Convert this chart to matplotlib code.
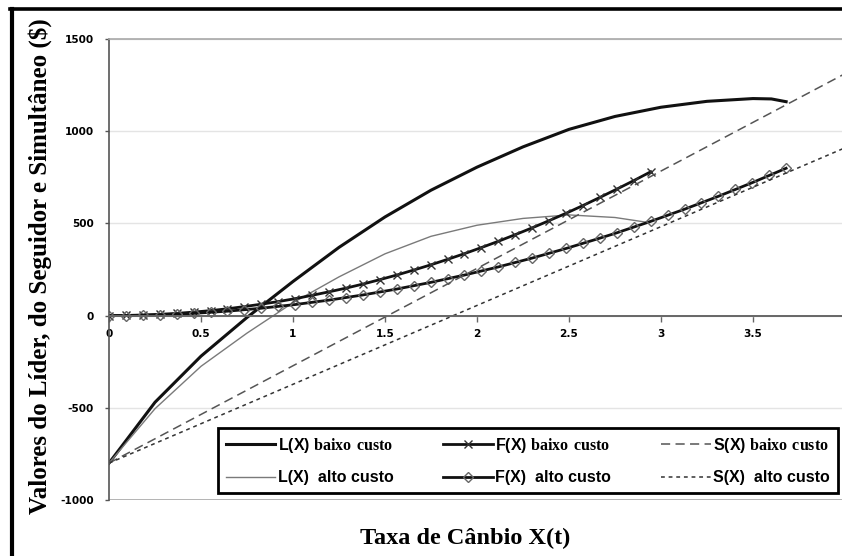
import numpy as np
import matplotlib
matplotlib.use("Agg")
import matplotlib.pyplot as plt
from matplotlib.lines import Line2D

plt.rcParams["axes.unicode_minus"] = False
plt.rcParams["mathtext.fontset"] = "custom"
plt.rcParams["mathtext.bf"] = "Liberation Serif:bold"
plt.rcParams["mathtext.rm"] = "Liberation Serif"

# --- data ---
# leader value curves (smooth lines)
x_lider_baixo = [0, 0.25, 0.5, 0.75, 1.0, 1.25, 1.5, 1.75, 2.0, 2.25, 2.5, 2.75, 3.0, 3.25, 3.5, 3.6, 3.68]
y_lider_baixo = [-800, -470, -220, -10, 185, 370, 535, 680, 805, 915, 1010, 1080, 1130, 1162, 1177, 1175, 1160]

x_lider_alto = [0, 0.25, 0.5, 0.75, 1.0, 1.25, 1.5, 1.75, 2.0, 2.25, 2.5, 2.75, 2.93]
y_lider_alto = [-800, -505, -275, -95, 70, 210, 335, 430, 490, 527, 546, 532, 505]

# follower value curves (marker every 0.092)
x_step = 0.092
y_seguidor_baixo = [0, 1, 3, 7, 12, 19, 27, 37, 49, 62, 76, 92, 110, 129, 149, 171, 195,
                    220, 247, 275, 305, 336, 369, 403, 439, 476, 515, 555, 597, 641, 686, 732, 780]
y_seguidor_alto = [0, 0, 2, 4, 8, 12, 18, 24, 32, 40, 50, 60, 72, 84, 98, 112, 128, 144, 162,
                   180, 200, 220, 242, 264, 288, 312, 338, 364, 392, 420, 449, 480, 511, 544,
                   577, 612, 647, 684, 721, 760, 799]
x_seguidor_baixo = np.round(np.arange(len(y_seguidor_baixo)) * x_step, 3)
x_seguidor_alto = np.round(np.arange(len(y_seguidor_alto)) * x_step, 3)

# simultaneous investment (straight lines)
x_simult = [0, 4]
y_simult_baixo = [-800, 1312]
y_simult_alto = [-800, 910]

x_ticks = [0, 0.5, 1, 1.5, 2, 2.5, 3, 3.5, 4]
x_tick_labels = ["0", "0.5", "1", "1.5", "2", "2.5", "3", "3.5", "4"]
y_ticks = [-1000, -500, 0, 500, 1000, 1500]

W, H = 842, 556
fig = plt.figure(figsize=(W / 100, H / 100), dpi=100)
fig.patch.set_facecolor("white")
ax = fig.add_axes([109 / W, 56 / H, 736 / W, 461 / H])

l1, = ax.plot(x_lider_baixo, y_lider_baixo, color="#111111", lw=2.2,
              label="L(X) $\\mathbf{baixo\\ custo}$")
l4, = ax.plot(x_lider_alto, y_lider_alto, color="#7a7a7a", lw=1.0,
              label="L(X)  alto custo")
l2, = ax.plot(x_seguidor_baixo, y_seguidor_baixo, color="#111111", lw=2.0,
              marker="x", ms=6, mec="#333333", mew=1.0,
              label="F(X) $\\mathbf{baixo\\ custo}$")
l5, = ax.plot(x_seguidor_alto, y_seguidor_alto, color="#111111", lw=2.0,
              marker="D", ms=5, mfc="none", mec="#666666", mew=1.0,
              label="F(X)  alto custo")
l3, = ax.plot(x_simult, y_simult_baixo, color="#555555", lw=1.1,
              linestyle=(0, (6, 3.5)), label="S(X) $\\mathbf{baixo\\ custo}$")
l6, = ax.plot(x_simult, y_simult_alto, color="#333333", lw=1.1,
              linestyle=(0, (2.5, 2.5)), label="S(X)  alto custo")

ax.set_xlim(0, 4)
ax.set_ylim(-1000, 1500)
ax.set_xticks(x_ticks)
ax.set_xticklabels(x_tick_labels)
ax.set_yticks(y_ticks)

ax.yaxis.grid(True, color="#e4e4e4", lw=1.0)
ax.set_axisbelow(True)
ax.axhline(-1000, color="#a8a8a8", lw=1.2, zorder=1)

ax.spines["right"].set_visible(False)
ax.spines["top"].set_color("#a8a8a8")
ax.spines["top"].set_linewidth(1.2)
ax.spines["left"].set_color("#555555")
ax.spines["left"].set_linewidth(1.2)
ax.spines["bottom"].set_position(("data", 0))
ax.spines["bottom"].set_color("#666666")
ax.spines["bottom"].set_linewidth(1.4)

ax.tick_params(axis="x", direction="out", length=4, width=1, color="#666666", pad=6)
ax.tick_params(axis="y", direction="out", length=3, width=1, color="#555555", pad=8)
for lab in ax.get_xticklabels() + ax.get_yticklabels():
    lab.set_fontfamily("DejaVu Sans")
    lab.set_fontweight("bold")
    lab.set_fontsize(7.6)

leg = ax.legend(handles=[l1, l4, l2, l5, l3, l6], ncol=3, loc="lower left",
                bbox_to_anchor=(0.148, 0.015, 0.842, 0.15), mode="expand",
                borderaxespad=0, frameon=True, fancybox=False, framealpha=1,
                edgecolor="black", handlelength=3.1, handletextpad=0.15,
                labelspacing=0.95, borderpad=0.5, columnspacing=1.3,
                prop={"family": "Liberation Sans", "weight": "bold", "size": 11.5})
leg.get_frame().set_linewidth(2.0)

fig.text(40 / W, 1 - 266 / H, "Valores do Líder, do Seguidor e Simultâneo ($)",
         rotation=90, ha="center", va="center", family="Liberation Serif",
         weight="bold", fontsize=18)
fig.text(360 / W, 1 - 544 / H, "Taxa de Cânbio X(t)", ha="left", va="baseline",
         family="Liberation Serif", weight="bold", fontsize=17.5)

# outer frame (cut off on the right and bottom in the reference)
fig.add_artist(Line2D([10 / W, 1.0], [1 - 8.5 / H, 1 - 8.5 / H],
                      transform=fig.transFigure, color="black", lw=2.6))
fig.add_artist(Line2D([11.5 / W, 11.5 / W], [0, 1 - 8.5 / H],
                      transform=fig.transFigure, color="black", lw=3.0))

fig.savefig("out.png", dpi=100)
